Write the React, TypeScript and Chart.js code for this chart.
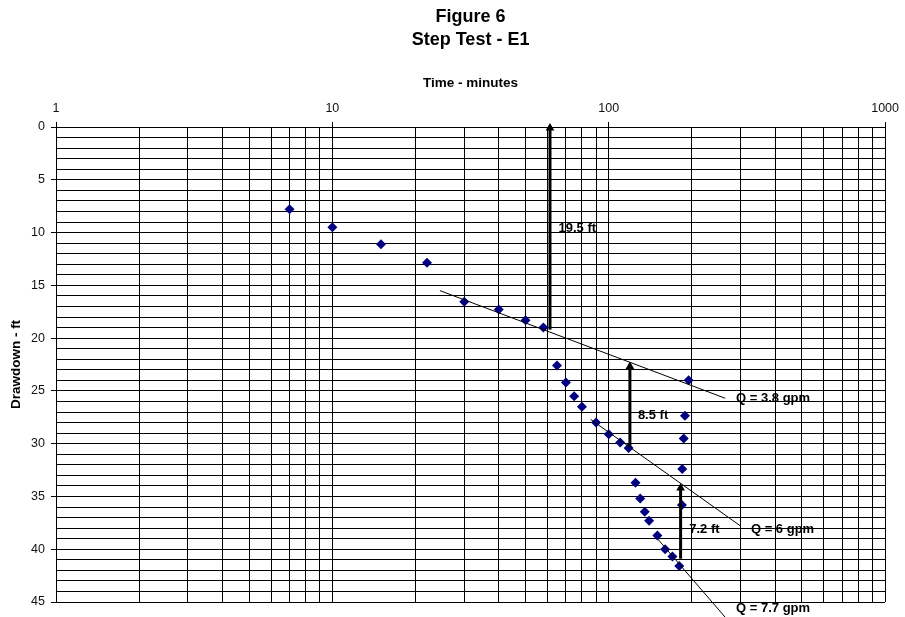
import React, { useEffect, useRef } from "react";
import { Chart, registerables } from "chart.js";
Chart.register(...registerables);

// Measured drawdown data (time in minutes, drawdown in ft)
const timeMin = [7, 10, 15, 22, 30, 40, 50, 58, 65, 70, 75, 80, 90, 100, 110, 118, 125, 130, 135, 140, 150, 160, 170, 180, 184, 184.5, 186.7, 188.7, 194.6];
const drawdownFt = [7.8, 9.5, 11.1, 12.85, 16.55, 17.3, 18.3, 19.0, 22.6, 24.2, 25.5, 26.5, 28.0, 29.1, 29.9, 30.4, 33.7, 35.2, 36.45, 37.3, 38.7, 40.0, 40.7, 41.6, 35.8, 32.4, 29.5, 27.35, 24.0];

// Straight-line fits (start/end)
const fitStartT = [24.5, 86, 150];
const fitStartD = [15.5, 27.7, 39.0];
const fitEndT = [264, 300, 264];
const fitEndD = [25.7, 37.8, 46.45];

// Arrows (vertical)
const arrowT = [61.3, 119.3, 182];
const arrowFromD = [19.2, 30.2, 40.9];
const arrowToD = [0.1, 22.7, 34.2];

// Text annotations
const noteTexts = ["19.5 ft", "8.5 ft", "7.2 ft", "Q = 3.8 gpm", "Q = 6 gpm", "Q = 7.7 gpm"];
const noteT = [65.8, 127.5, 195.6, 288.8, 327, 288.8];
const noteD = [9.57, 27.35, 38.1, 25.7, 38.1, 45.6];

// Axis labels
const xLabeledTicks = [1, 10, 100, 1000];
const yLabeledTicks = [0, 5, 10, 15, 20, 25, 30, 35, 40, 45];

const FONT = "'Liberation Sans', Arial, sans-serif";

const notesPlugin = {
  id: "notes",
  afterDatasetsDraw(chart: any) {
    const { ctx, scales } = chart;
    ctx.save();
    ctx.font = `bold 13px ${FONT}`;
    ctx.fillStyle = "#000";
    ctx.textAlign = "left";
    ctx.textBaseline = "middle";
    noteTexts.forEach((t, i) => {
      ctx.fillText(t, scales.x.getPixelForValue(noteT[i]), scales.y.getPixelForValue(noteD[i]));
    });
    ctx.restore();
  },
};

export default function App() {
  const ref = useRef<HTMLCanvasElement | null>(null);
  useEffect(() => {
    document.body.style.margin = "0";
    Chart.defaults.font.family = FONT;
    const datasets: any[] = [];
    fitStartT.forEach((_, i) => {
      datasets.push({
        type: "line",
        data: [
          { x: fitStartT[i], y: fitStartD[i] },
          { x: fitEndT[i], y: fitEndD[i] },
        ],
        borderColor: "#000",
        borderWidth: 1,
        pointRadius: 0,
        clip: false,
      });
    });
    arrowT.forEach((t, i) => {
      datasets.push({
        type: "line",
        data: [
          { x: t, y: arrowFromD[i] },
          { x: t, y: arrowToD[i] },
        ],
        borderColor: "#000",
        borderWidth: 3,
        pointStyle: "triangle",
        pointRadius: [0, 5],
        pointBackgroundColor: "#000",
        pointBorderColor: "#000",
        pointBorderWidth: 0,
        clip: false,
      });
    });
    datasets.push({
      type: "scatter",
      data: timeMin.map((t, i) => ({ x: t, y: drawdownFt[i] })),
      pointStyle: "rectRot",
      pointRadius: 5,
      backgroundColor: "#000080",
      borderColor: "#000080",
      borderWidth: 0,
      showLine: false,
    });

    const chart = new Chart(ref.current!, {
      type: "scatter",
      data: { datasets },
      plugins: [notesPlugin],
      options: {
        animation: false,
        responsive: false,
        events: [],
        layout: { padding: { left: 0, top: 0, right: 16, bottom: 15 } },
        plugins: {
          legend: { display: false },
          tooltip: { enabled: false },
          title: {
            display: true,
            text: ["Figure 6", "Step Test - E1"],
            color: "#000",
            fullSize: false,
            font: { size: 18, weight: "bold", lineHeight: 1.25 },
            padding: { top: 6, bottom: 0 },
          },
        },
        scales: {
          x: {
            type: "logarithmic",
            position: "top",
            min: 1,
            max: 1000,
            afterBuildTicks(scale: any) {
              const ticks: any[] = [];
              for (let e = 0; e < 3; e++) {
                for (let m = 1; m < 10; m++) ticks.push({ value: m * Math.pow(10, e) });
              }
              ticks.push({ value: 1000 });
              scale.ticks = ticks;
            },
            afterFit(scale: any) {
              scale.height = 76;
            },
            ticks: {
              autoSkip: false,
              maxRotation: 0,
              padding: 6,
              color: "#111",
              font: { size: 12.5 },
              callback: (v: any) => (xLabeledTicks.includes(Math.round(Number(v))) && Math.abs(Number(v) - Math.round(Number(v))) < 1e-6 ? String(Math.round(Number(v))) : ""),
            },
            grid: {
              color: "#000",
              lineWidth: 1,
              tickLength: 5,
              tickColor: (ctx: any) => (ctx.tick && xLabeledTicks.includes(Math.round(ctx.tick.value)) ? "#000" : "rgba(0,0,0,0)"),
            },
            border: { display: true, color: "#000" },
            title: {
              display: true,
              text: "Time - minutes",
              color: "#000",
              font: { size: 13.5, weight: "bold" },
              padding: { top: 24, bottom: 0 },
            },
          },
          y: {
            type: "linear",
            reverse: true,
            min: 0,
            max: 45,
            afterFit(scale: any) {
              scale.width = 56;
            },
            ticks: {
              stepSize: 1,
              autoSkip: false,
              padding: 6,
              color: "#111",
              font: { size: 12.5 },
              callback: (v: any) => (yLabeledTicks.includes(Number(v)) ? String(v) : ""),
            },
            grid: {
              color: "#000",
              lineWidth: 1,
              tickLength: 5,
              tickColor: (ctx: any) => (ctx.tick && yLabeledTicks.includes(ctx.tick.value) ? "#000" : "rgba(0,0,0,0)"),
            },
            border: { display: true, color: "#000" },
            title: {
              display: true,
              text: "Drawdown - ft",
              color: "#000",
              font: { size: 13.5, weight: "bold" },
              padding: { top: 8, bottom: 0 },
            },
          },
        },
      } as any,
    });
    return () => chart.destroy();
  }, []);
  return (
    <div style={{ width: 905, height: 617 }}>
      <canvas ref={ref} width={905} height={617} style={{ display: "block" }} />
    </div>
  );
}
